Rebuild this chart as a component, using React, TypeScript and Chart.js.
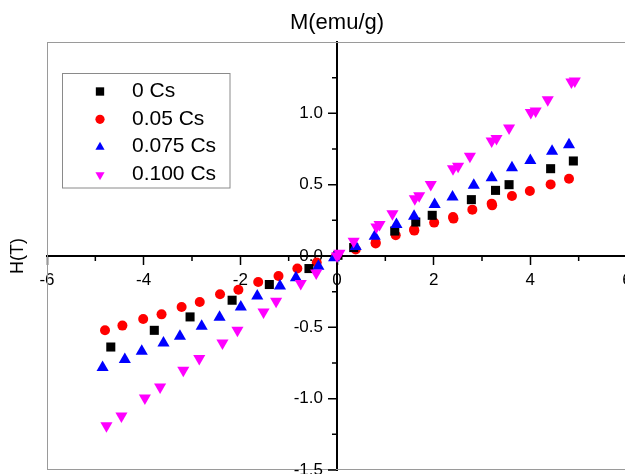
import React, { useEffect, useRef } from 'react';
import { Chart, registerables } from 'chart.js';

Chart.register(...registerables);

const FONT = "'Liberation Sans', Arial, Helvetica, sans-serif";

const seriesLabels = ['0 Cs', '0.05 Cs', '0.075 Cs', '0.100 Cs'];
const seriesColors = ['#000000', '#ff0000', '#0000ff', '#ff00ff'];

// 0 Cs (black squares)
const cs0X = [-4.68, -3.78, -3.04, -2.17, -1.40, -0.58, 0.02, 0.345, 1.195, 1.63, 1.97, 2.78, 3.28, 3.56, 4.42, 4.89];
const cs0Y = [-0.638, -0.521, -0.427, -0.310, -0.200, -0.088, 0.005, 0.059, 0.175, 0.238, 0.285, 0.395, 0.46, 0.50, 0.612, 0.666];

// 0.05 Cs (red circles)
const cs05X = [-4.80, -4.44, -4.01, -3.63, -3.215, -2.84, -2.42, -2.04, -1.63, -1.21, -0.82, -0.42, -0.02, 0.387, 0.80, 0.80, 1.215, 1.594, 1.60, 2.01, 2.40, 2.41, 2.80, 3.20, 3.21, 3.62, 3.99, 4.42, 4.80];
const cs05Y = [-0.521, -0.488, -0.441, -0.409, -0.357, -0.322, -0.268, -0.236, -0.182, -0.140, -0.088, -0.046, 0.0, 0.045, 0.094, 0.088, 0.145, 0.185, 0.178, 0.234, 0.273, 0.262, 0.325, 0.367, 0.355, 0.42, 0.456, 0.502, 0.542];

// 0.075 Cs (blue up-triangles)
const cs075X = [-4.85, -4.39, -4.04, -3.59, -3.25, -2.80, -2.43, -1.99, -1.65, -1.18, -0.85, -0.385, -0.06, 0.387, 0.78, 1.23, 1.594, 2.02, 2.39, 2.83, 3.20, 3.62, 4.00, 4.45, 4.80];
const cs075Y = [-0.782, -0.725, -0.667, -0.609, -0.562, -0.492, -0.429, -0.358, -0.281, -0.211, -0.153, -0.071, -0.012, 0.066, 0.139, 0.221, 0.279, 0.361, 0.414, 0.496, 0.548, 0.618, 0.669, 0.735, 0.78];

// 0.100 Cs (magenta down-triangles)
const cs100X = [-4.77, -4.46, -3.975, -3.66, -3.18, -2.85, -2.37, -2.06, -1.52, -1.26, -0.75, -0.43, 0.0, 0.05, 0.345, 0.815, 0.88, 1.147, 1.61, 1.70, 1.94, 2.40, 2.505, 2.75, 3.20, 3.30, 3.56, 4.01, 4.11, 4.36, 4.85, 4.92];
const cs100Y = [-1.189, -1.121, -0.995, -0.918, -0.801, -0.719, -0.61, -0.521, -0.392, -0.317, -0.193, -0.119, 0.0, 0.02, 0.103, 0.203, 0.22, 0.297, 0.402, 0.423, 0.502, 0.612, 0.629, 0.70, 0.806, 0.823, 0.897, 1.005, 1.016, 1.096, 1.219, 1.226];

const xMin = -6;
const xMax = 6;
const yMin = -1.5;
const yMax = 1.5;
const xMajorStep = 2;
const yMajorStep = 0.5;
const xMinorTicks = [-5, -3, -1, 1, 3, 5];
const yMinorTicks = [-1.25, -0.75, -0.25, 0.25, 0.75, 1.25];

const xTitle = 'M(emu/g)';
const yTitle = 'H(T)';

type Marker = { style: string; r: number; legendR: number; rot: number };
const markers: Marker[] = [
  { style: 'rect', r: 6.4, legendR: 5.9, rot: 0 },
  { style: 'circle', r: 5, legendR: 4.6, rot: 0 },
  { style: 'triangle', r: 7, legendR: 5.3, rot: 0 },
  { style: 'triangle', r: 7, legendR: 5.3, rot: 180 },
];

function drawMarker(ctx: CanvasRenderingContext2D, m: Marker, x: number, y: number, r: number, color: string) {
  ctx.save();
  ctx.fillStyle = color;
  ctx.beginPath();
  if (m.style === 'rect') {
    const s = Math.SQRT1_2 * r;
    ctx.rect(x - s, y - s, 2 * s, 2 * s);
  } else if (m.style === 'circle') {
    ctx.arc(x, y, r, 0, Math.PI * 2);
  } else {
    const rad0 = (m.rot * Math.PI) / 180;
    for (let i = 0; i < 3; i++) {
      const a = rad0 + (i * 2 * Math.PI) / 3;
      const px = x + Math.sin(a) * r;
      const py = y - Math.cos(a) * r;
      if (i === 0) ctx.moveTo(px, py);
      else ctx.lineTo(px, py);
    }
    ctx.closePath();
  }
  ctx.fill();
  ctx.restore();
}

const framePlugin = {
  id: 'frameAndExtras',
  beforeDatasetsDraw(chart: any) {
    const { ctx, chartArea } = chart;
    const xs = chart.scales.x;
    const ys = chart.scales.y;
    ctx.save();
    // outer frame
    ctx.strokeStyle = '#9a9a9a';
    ctx.lineWidth = 1;
    const l = Math.round(chartArea.left) + 0.5;
    const t = Math.round(chartArea.top) + 0.5;
    const r = Math.round(chartArea.right) - 0.5;
    const b = Math.round(chartArea.bottom) - 0.5;
    ctx.strokeRect(l, t, r - l, b - t);
    // minor ticks
    ctx.strokeStyle = '#000';
    ctx.lineWidth = 1.5;
    const y0 = ys.getPixelForValue(0);
    const x0 = xs.getPixelForValue(0);
    ctx.beginPath();
    xMinorTicks.forEach((v) => {
      const px = xs.getPixelForValue(v);
      ctx.moveTo(px, y0 + 1);
      ctx.lineTo(px, y0 + 5);
    });
    yMinorTicks.forEach((v) => {
      const py = ys.getPixelForValue(v);
      ctx.moveTo(x0 - 1, py);
      ctx.lineTo(x0 - 5, py);
    });
    // y major ticks
    ys.ticks.forEach((tk: any) => {
      if (tk.value === yMax) return;
      const py = ys.getPixelForValue(tk.value);
      ctx.moveTo(x0 - 1, py);
      ctx.lineTo(x0 - 9, py);
    });
    ctx.stroke();
    // y labels
    ctx.fillStyle = '#000';
    ctx.font = `17px ${FONT}`;
    ctx.textAlign = 'right';
    ctx.textBaseline = 'middle';
    ys.ticks.forEach((tk: any) => {
      if (tk.value === yMax) return;
      const py = ys.getPixelForValue(tk.value);
      ctx.fillText(Number(tk.value).toFixed(1), x0 - 14, py);
    });
    ctx.restore();
  },
  afterDraw(chart: any) {
    const { ctx } = chart;
    ctx.save();
    // legend box
    const bx = 62.5, by = 73.5, bw = 167.5, bh = 114.5;
    ctx.fillStyle = '#ffffff';
    ctx.fillRect(bx, by, bw, bh);
    ctx.strokeStyle = '#8a8a8a';
    ctx.lineWidth = 1;
    ctx.strokeRect(bx, by, bw, bh);
    ctx.font = `21px ${FONT}`;
    ctx.textBaseline = 'middle';
    ctx.textAlign = 'left';
    chart.data.datasets.forEach((ds: any, i: number) => {
      const yy = 91 + i * 27.8;
      drawMarker(ctx, markers[i], 100, yy + 0.5, markers[i].legendR, seriesColors[i]);
      ctx.fillStyle = '#000';
      ctx.fillText(ds.label, 132, yy);
    });
    ctx.restore();
  },
};

function toPoints(xs: number[], ys: number[]) {
  return xs.map((x, i) => ({ x, y: ys[i] }));
}

export default function App() {
  const ref = useRef<HTMLCanvasElement>(null);
  useEffect(() => {
    if (!ref.current) return;
    const seriesX = [cs0X, cs05X, cs075X, cs100X];
    const seriesY = [cs0Y, cs05Y, cs075Y, cs100Y];
    const orders = [2, 3, 1, 0];
    const datasets = seriesLabels.map((label, i) => ({
      label,
      data: toPoints(seriesX[i], seriesY[i]),
      pointStyle: markers[i].style,
      pointRadius: markers[i].r,
      pointRotation: markers[i].rot,
      backgroundColor: seriesColors[i],
      borderColor: seriesColors[i],
      borderWidth: 0,
      pointBorderWidth: 0,
      showLine: false,
      order: orders[i],
    }));
    const chart = new Chart(ref.current, {
      type: 'scatter',
      data: { datasets },
      plugins: [framePlugin],
      options: {
        animation: false,
        responsive: false,
        events: [],
        layout: { padding: { left: 0, top: 0, right: 13, bottom: 20 } },
        plugins: { legend: { display: false }, tooltip: { enabled: false }, title: { display: false } },
        scales: {
          x: {
            type: 'linear',
            min: xMin,
            max: xMax,
            position: { y: 0 },
            grid: { display: true, drawOnChartArea: false, drawTicks: true, tickLength: 8, tickWidth: 1.5, tickColor: '#000' },
            border: { display: true, color: '#000', width: 2 },
            ticks: {
              stepSize: xMajorStep,
              autoSkip: false,
              maxRotation: 0,
              padding: 6,
              color: '#000',
              font: { family: FONT, size: 17 },
              callback: (v: any) => String(Number(v)),
            },
          },
          y: {
            type: 'linear',
            min: yMin,
            max: yMax,
            position: { x: 0 },
            grid: { display: false, drawOnChartArea: false, drawTicks: false },
            border: { display: true, color: '#000', width: 2 },
            ticks: {
              stepSize: yMajorStep,
              autoSkip: false,
              display: false,
              font: { family: FONT, size: 17 },
            },
          },
          x2: {
            type: 'linear',
            min: xMin,
            max: xMax,
            position: 'top',
            grid: { display: false },
            border: { display: false },
            ticks: { display: false },
            title: { display: true, text: xTitle, color: '#000', font: { family: FONT, size: 22 }, padding: { top: 10, bottom: 0 } },
            afterFit: (s: any) => { s.height = 42; },
          },
          y2: {
            type: 'linear',
            min: yMin,
            max: yMax,
            position: 'left',
            grid: { display: false },
            border: { display: false },
            ticks: { display: false },
            title: { display: true, text: yTitle, color: '#000', font: { family: FONT, size: 18 }, padding: { top: 7.5, bottom: 0 } },
            afterFit: (s: any) => { s.width = 47; },
          },
        },
      } as any,
    });
    return () => chart.destroy();
  }, []);
  return (
    <div style={{ position: 'absolute', left: 0, top: 0, width: 625, height: 474, overflow: 'hidden', background: '#fff' }}>
      <canvas ref={ref} width={640} height={490} style={{ width: 640, height: 490, display: 'block' }} />
    </div>
  );
}
